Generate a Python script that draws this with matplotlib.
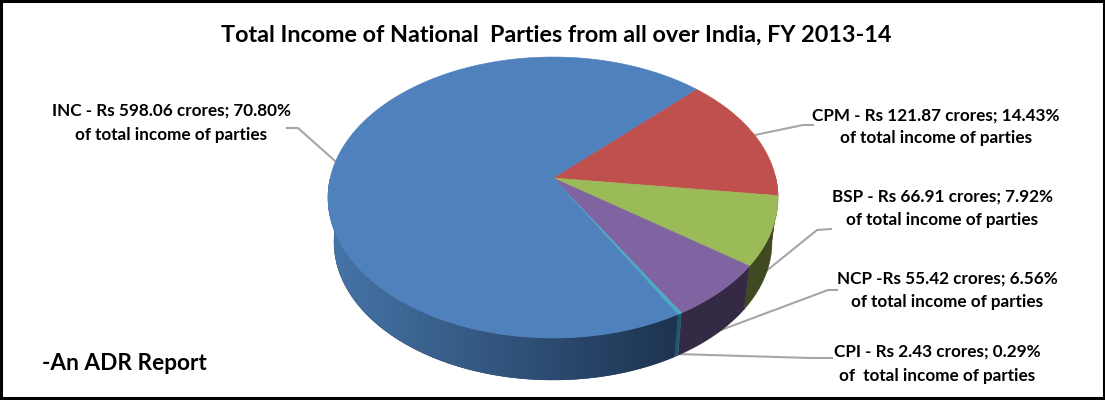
import numpy as np
import matplotlib
matplotlib.use('Agg')
import matplotlib.pyplot as plt
from matplotlib.patches import Polygon, Rectangle
from matplotlib.colors import LinearSegmentedColormap

# values in clockwise order, starting from the top right
parties = ['CPM', 'BSP', 'NCP', 'CPI', 'INC']
income = [121.87, 66.91, 55.42, 2.43, 598.06]
colors = ['#c0504d', '#9bbb59', '#8064a2', '#4bacc6', '#4f81bd']
side_left = ['#7a3230', '#404a20', '#352a45', '#1d5b6b', '#4675a8']
side_right = ['#7a3230', '#404a20', '#352a45', '#1d5b6b', '#1d3350']

title = 'Total Income of National  Parties from all over India, FY 2013-14'
note = '-An ADR Report'
labels = [
    ('INC - Rs 598.06 crores; 70.80%', 'of total income of parties'),
    ('CPM - Rs 121.87 crores; 14.43%', 'of total income of parties'),
    ('BSP - Rs 66.91 crores; 7.92%', 'of total income of parties'),
    ('NCP -Rs 55.42 crores; 6.56%', 'of total income of parties'),
    ('CPI - Rs 2.43 crores; 0.29%', 'of  total income of parties'),
]
label_x = [171, 936, 942, 947, 937]
label_y = [111, 116, 197, 279, 352]
label_dy = [24, 22, 23, 23, 24]

# leader lines
leaders = [
    [(335, 161), (298, 128), (287, 128)],
    [(755, 135), (803, 125), (813, 125)],
    [(765, 272), (817, 230), (831, 229)],
    [(713, 333), (828, 290), (837, 290)],
    [(676, 354), (810, 358), (832, 358)],
]

# pie geometry in pixels
cx, cy, a, b = 553, 197.5, 225, 140.5      # top face
bot_cy, bot_a, bot_b = 242, 219, 138       # bottom rim
apex_off = 19.5 / b                        # apex sits above the ellipse centre
start = 44.8


def rim_param(theta):
    # where a ray from the apex at angle theta (deg) meets the unit circle
    t = np.radians(theta)
    dx, dy = np.cos(t), np.sin(t)
    q = dy * apex_off
    s = -q + np.sqrt(q * q + 1 - apex_off ** 2)
    return np.arctan2(apex_off + s * dy, s * dx)


def top_pts(p):
    return np.column_stack([cx + a * np.cos(p), cy - b * np.sin(p)])


def bot_pts(p):
    return np.column_stack([cx + bot_a * np.cos(p), bot_cy - bot_b * np.sin(p)])


fig = plt.figure(figsize=(11.05, 4), dpi=100)
ax = fig.add_axes([0, 0, 1, 1])
plt.rcParams['font.family'] = ['Lato', 'DejaVu Sans']

fracs = np.array(income) / sum(income) * 360
edges = start - np.concatenate([[0], np.cumsum(fracs)])
params = [np.unwrap(rim_param(np.linspace(edges[i], edges[i + 1], 200))) for i in range(len(income))]

for line in leaders:
    xs, ys = zip(*line)
    ax.plot(xs, ys, color='#a6a6a6', lw=1.5, zorder=1)

# side wall, only the front half shows
for i in range(len(income)):
    p = params[i]
    p = p[(np.sin(p) < 0.15)]
    if len(p) < 2:
        continue
    pts = np.vstack([top_pts(p), bot_pts(p)[::-1]])
    wall = Polygon(pts, closed=True, facecolor=side_right[i], edgecolor=side_right[i], lw=0.3, zorder=2)
    ax.add_patch(wall)
    if side_left[i] != side_right[i]:
        # INC gets darker towards the front right
        cmap = LinearSegmentedColormap.from_list('side', [side_left[i], side_right[i]])
        ramp = np.linspace(0, 1, 256).reshape(1, -1)
        img = ax.imshow(ramp, cmap=cmap, extent=(pts[:, 0].min(), pts[:, 0].max(), 400, 0), aspect='auto', zorder=2.1)
        img.set_clip_path(wall)

# top face
apex = (cx, cy - apex_off * b)
for i in range(len(income)):
    pts = np.vstack([[apex], top_pts(params[i])])
    ax.add_patch(Polygon(pts, closed=True, facecolor=colors[i], edgecolor=colors[i], lw=0.4, zorder=3))

ax.set_xlim(0, 1105)
ax.set_ylim(400, 0)
ax.axis('off')

ax.text(556, 35.5, title, ha='center', va='center', fontsize=16.8, fontweight='bold', color='black')
ax.text(42, 364, note, ha='left', va='center', fontsize=16.3, fontweight='bold', color='black')
for k in range(len(labels)):
    ax.text(label_x[k], label_y[k], labels[k][0], ha='center', va='center', fontsize=12.3, fontweight='bold', color='black')
    ax.text(label_x[k], label_y[k] + label_dy[k], labels[k][1], ha='center', va='center', fontsize=12.3, fontweight='bold', color='black')

# black frame
ax.add_patch(Rectangle((1, 1), 1103, 397, fill=False, edgecolor='black', lw=2.2, zorder=5))

fig.savefig('out.png', dpi=100, facecolor='white')
